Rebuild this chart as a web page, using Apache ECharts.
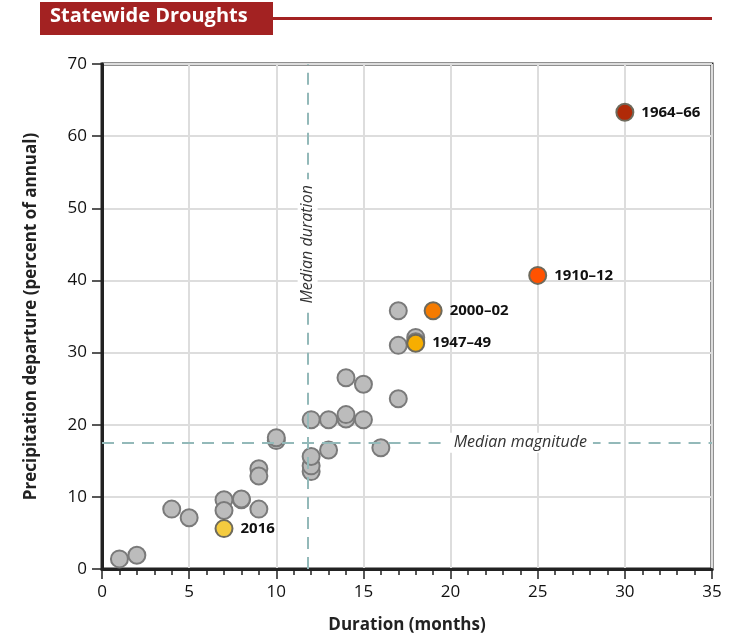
<!DOCTYPE html>
<html>
<head>
<meta charset="utf-8">
<script src="https://cdn.jsdelivr.net/npm/echarts@6/dist/echarts.min.js"></script>
<style>
  html, body { margin: 0; padding: 0; background: #fff; }
  #chartmain { width: 752px; height: 642px; }
</style>
</head>
<body>
<div id="chartmain"></div>
<script>
// gray droughts: [duration (months), departure (% of annual)]
var otherDroughts = [
  [1, 1.4], [2, 1.9], [4, 8.3], [5, 7.1],
  [7, 9.6], [7, 8.1], [8, 9.6], [8, 9.7],
  [9, 13.9], [9, 12.9], [9, 8.3],
  [10, 17.8], [10, 18.2],
  [12, 13.5], [12, 14.3], [12, 15.6], [12, 20.7],
  [13, 20.7], [13, 16.5],
  [14, 26.5], [14, 20.8], [14, 21.4],
  [15, 25.6], [15, 20.7], [16, 16.8],
  [17, 35.8], [17, 31.0], [17, 23.6],
  [18, 32.1], [18, 31.5]
];
// labelled droughts
var namedNames = ['2016', '1947–49', '2000–02', '1910–12', '1964–66'];
var namedX = [7, 18, 19, 25, 30];
var namedY = [5.6, 31.3, 35.8, 40.7, 63.3];
var namedColors = ['#f4cb3f', '#f7ae00', '#f57b00', '#ff5200', '#b02a08'];

var medianDuration = 11.8;
var medianMagnitude = 17.5;

var xTicks = [0, 35, 5];
var yTicks = [0, 70, 10];

var namedData = namedNames.map(function (n, i) {
  return { name: n, value: [namedX[i], namedY[i]], itemStyle: { color: namedColors[i] } };
});

var dashStyle = { color: '#93b9b9', width: 2, type: [12, 8] };
var medLabel = {
  color: '#333', fontStyle: 'italic', fontSize: 16, fontFamily: 'Open Sans',
  backgroundColor: '#fff', padding: [2, 6], distance: 0, verticalAlign: 'middle'
};

var option = {
  animation: false,
  grid: {
    left: 102, right: 40, top: 64, bottom: 73,
    show: true, borderColor: '#222', borderWidth: 3
  },
  graphic: [
    { type: 'rect', left: 40, top: 2, shape: { width: 233, height: 33 }, style: { fill: '#a32222' } },
    { type: 'rect', left: 273, top: 17, shape: { width: 439, height: 3 }, style: { fill: '#a32222' } },
    { type: 'text', left: 50, top: 6, style: { text: 'Statewide Droughts', fill: '#fff', font: 'bold 20px "Open Sans"' } }
  ],
  xAxis: {
    type: 'value', min: xTicks[0], max: xTicks[1], interval: xTicks[2],
    name: 'Duration (months)', nameLocation: 'middle', nameGap: 48,
    nameTextStyle: { fontSize: 17, fontWeight: 'bold', color: '#222', fontFamily: 'Open Sans' },
    axisLine: { lineStyle: { color: '#222', width: 3 } },
    axisTick: { show: true, length: 10, lineStyle: { color: '#222', width: 1.5 } },
    minorTick: { show: true, splitNumber: 5, length: 6, lineStyle: { color: '#222', width: 1.5 } },
    axisLabel: { fontSize: 17, color: '#111', margin: 15, fontFamily: 'Open Sans' },
    splitLine: { show: true, lineStyle: { color: '#ddd', width: 2 } }
  },
  yAxis: {
    type: 'value', min: yTicks[0], max: yTicks[1], interval: yTicks[2],
    name: 'Precipitation departure (percent of annual)', nameLocation: 'middle', nameGap: 62,
    nameTextStyle: { fontSize: 17, fontWeight: 'bold', color: '#222', fontFamily: 'Open Sans' },
    axisLine: { show: true, lineStyle: { color: '#222', width: 3 } },
    axisTick: { show: true, length: 10, lineStyle: { color: '#222', width: 1.5 } },
    axisLabel: { fontSize: 17, color: '#111', margin: 15, fontFamily: 'Open Sans' },
    splitLine: { show: true, lineStyle: { color: '#ddd', width: 2 } }
  },
  series: [
    {
      type: 'scatter',
      data: otherDroughts,
      symbolSize: 17,
      itemStyle: { color: '#bcbcbc', borderColor: '#7a7a7a', borderWidth: 2, opacity: 1 },
      markLine: {
        silent: true, symbol: ['none', 'none'],
        lineStyle: dashStyle,
        data: [
          [{ coord: [medianDuration, 0] }, { coord: [medianDuration, 20] }],
          [{ coord: [medianDuration, 20], label: Object.assign({ show: true, position: 'middle', formatter: 'Median duration' }, medLabel) },
           { coord: [medianDuration, 70] }],
          [{ coord: [0, medianMagnitude] }, { coord: [13, medianMagnitude] }],
          [{ coord: [13, medianMagnitude], label: Object.assign({ show: true, position: 'middle', formatter: 'Median magnitude' }, medLabel) },
           { coord: [35, medianMagnitude] }]
        ],
        label: { show: false }
      },
      z: 3
    },
    {
      type: 'scatter',
      data: namedData,
      symbolSize: 17,
      itemStyle: { borderColor: '#6e6a5c', borderWidth: 2, opacity: 1 },
      label: {
        show: true, position: 'right', distance: 7,
        formatter: '{b}', color: '#111', fontSize: 15, fontWeight: 'bold', fontFamily: 'Open Sans'
      },
      z: 4
    }
  ]
};

var chartmain = echarts.init(document.getElementById('chartmain'));
chartmain.setOption(option);
</script>
</body>
</html>
